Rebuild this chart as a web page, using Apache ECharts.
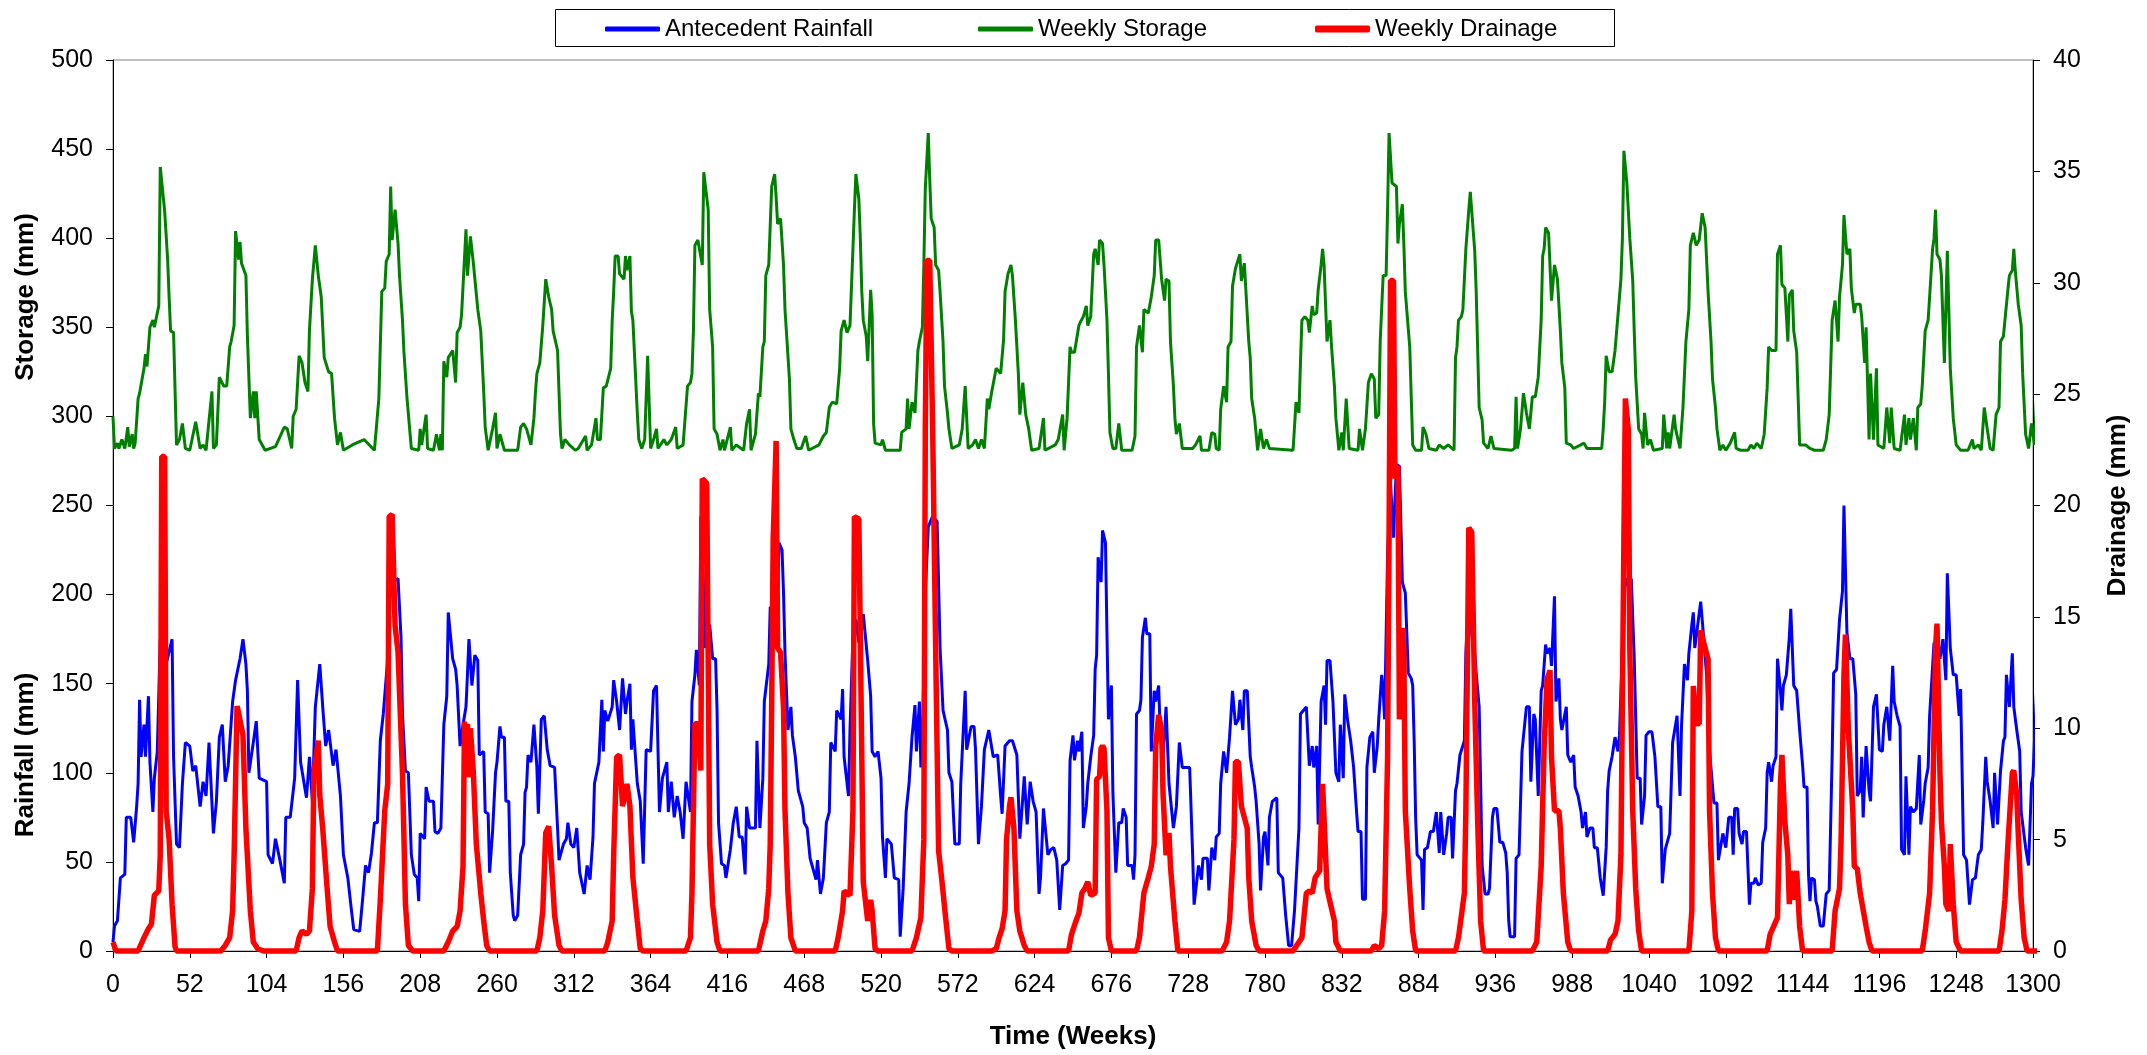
<!DOCTYPE html>
<html>
<head>
<meta charset="utf-8">
<script src="https://cdn.jsdelivr.net/npm/echarts@6/dist/echarts.min.js"></script>
<style>
html,body{margin:0;padding:0;background:#ffffff;}
#chart{width:2147px;height:1055px;}
</style>
</head>
<body>
<div id="chart"></div>
<script>
// ---- Series names and axis titles ----
const seriesNames = ['Antecedent Rainfall', 'Weekly Storage', 'Weekly Drainage'];
const xTitle = 'Time (Weeks)';
const storageTitle = 'Storage (mm)';
const rainfallTitle = 'Rainfall (mm)';
const drainageTitle = 'Drainage (mm)';

// ---- Antecedent rainfall, [week, mm] (left axis) ----
const rainfall = [
[0,5],[1,14],[3,17],[5,41],[8,43],[9,75],[12,75],[14,61],[16,81],[17,94],[18,141],[19,109],[21,127],[22,109],[24,143],[25,106],[27,78],[28,97],[30,112],[32,175],[34,170],[36,161],[40,175],[41,109],[43,60],[45,58],[47,94],[49,117],[52,115],[54,101],[56,104],[59,81],[61,95],[63,87],[65,117],[68,66],[70,84],[72,120],[74,127],[76,95],[78,104],[81,140],[83,152],[86,164],[88,175],[90,161],[91,146],[92,100],[95,117],[97,129],[99,97],[104,95],[105,54],[108,49],[110,63],[113,51],[116,38],[117,75],[120,75],[123,97],[125,152],[127,106],[131,86],[133,109],[135,84],[137,137],[140,161],[142,137],[144,115],[146,124],[149,104],[151,113],[154,87],[156,54],[159,41],[161,26],[163,12],[167,11],[169,29],[171,48],[173,44],[175,55],[177,72],[179,72],[181,118],[183,133],[186,164],[187,232],[189,207],[193,209],[195,176],[196,133],[198,101],[200,100],[202,54],[204,43],[206,41],[207,28],[208,66],[211,63],[212,92],[214,84],[217,84],[218,67],[220,66],
[222,69],[224,127],[226,143],[227,190],[230,164],[232,158],[233,149],[235,115],[237,127],[239,137],[240,155],[241,175],[243,149],[245,166],[247,163],[248,110],[251,112],[252,78],[254,77],[255,44],[257,67],[259,100],[260,106],[262,126],[263,120],[265,120],[266,84],[268,84],[269,44],[271,20],[272,17],[274,20],[276,54],[278,60],[279,89],[280,92],[281,110],[283,106],[285,127],[287,103],[288,77],[290,130],[292,132],[294,113],[296,104],[299,103],[301,69],[302,51],[305,60],[307,63],[308,72],[310,60],[312,58],[314,69],[316,44],[319,32],[321,48],[323,40],[325,64],[326,94],[329,106],[331,141],[332,112],[333,135],[335,129],[338,137],[339,152],[341,140],[343,124],[345,153],[347,133],[348,140],[350,150],[351,113],[352,130],[355,94],[357,84],[359,49],[361,113],[364,112],[366,146],[368,149],[370,78],[372,97],[375,106],[376,78],[378,95],[380,75],[382,87],[384,78],[386,63],[388,95],[391,78],[392,140],[394,155],[395,169],[397,149],[398,244],[400,201],[401,170],[404,183],[406,164],[408,164],[409,135],[410,72],[412,49],[414,48],[415,41],[418,57],[420,72],[422,81],[424,64],[426,64],[428,43],[429,81],[431,69],[435,69],[436,118],
[438,69],[440,97],[441,140],[444,161],[445,193],[447,192],[449,170],[451,229],[453,225],[454,201],[455,167],[457,124],[459,137],[460,121],[462,109],[464,90],[467,81],[468,72],[470,69],[472,52],[473,51],[476,40],[477,51],[479,32],[481,41],[483,72],[485,78],[486,117],[489,112],[490,135],[493,130],[494,147],[495,109],[498,87],[499,124],[501,176],[503,186],[505,173],[508,189],[511,163],[513,143],[514,112],[516,109],[518,112],[520,97],[521,64],[523,41],[524,63],[527,60],[529,41],[532,40],[533,8],[535,35],[537,78],[539,94],[541,120],[543,138],[544,112],[546,140],[547,103],[548,115],[550,201],[552,238],[555,244],[558,241],[560,170],[562,135],[565,124],[566,100],[568,95],[570,60],[573,60],[574,94],[577,146],[578,113],[581,126],[583,126],[584,113],[586,60],[588,81],[590,113],[593,124],[596,109],[599,110],[601,87],[602,77],[604,115],[607,118],[609,118],[612,110],[614,63],[617,98],[619,71],[621,95],[623,84],[625,78],[627,32],[628,41],[630,80],[633,54],[635,57],[637,58],[639,51],[641,23],[643,48],
[645,49],[647,51],[648,107],[650,121],[651,107],[653,118],[654,112],[656,123],[657,69],[659,81],[660,94],[662,109],[664,121],[665,158],[666,166],[667,221],[669,207],[670,236],[672,229],[673,178],[674,130],[676,149],[677,89],[679,44],[681,72],[683,72],[684,80],[686,75],[687,48],[690,48],[691,40],[692,54],[693,133],[695,135],[696,141],[697,176],[699,187],[700,178],[702,178],[703,112],[705,146],[706,140],[708,149],[709,124],[711,109],[713,137],[715,94],[718,69],[720,81],[722,117],[724,103],[729,103],[731,54],[732,26],[735,48],[737,40],[738,52],[741,52],[742,34],[744,58],[746,51],[747,64],[749,66],[750,94],[752,112],[754,100],[756,120],[757,120],[758,146],[760,127],[762,130],[763,141],[765,124],[766,146],[768,146],[770,109],[771,103],[773,92],[774,84],[776,60],[777,34],[779,64],[780,67],[782,48],[783,75],[785,84],[788,86],[789,44],[792,41],[794,20],[796,3],[798,3],[800,23],[802,54],[803,69],[804,133],[806,135],[808,137],[810,104],[812,115],[813,103],[815,115],[816,71],[818,140],[820,149],[821,127],[822,163],[824,163],[826,140],[828,100],[830,95],[831,127],[833,97],[834,144],[836,129],[838,118],[840,103],[842,78],[843,67],[845,67],[846,29],[848,29],[849,103],[851,120],[853,123],[854,100],[856,115],[857,130],[859,155],[860,146],[861,130],[863,222],[865,262],[867,232],[869,273],[871,272],[872,273],[873,207],[875,201],[877,156],[879,153],[880,149],[881,118],[882,75],[883,54],[886,51],[887,23],[888,57],[890,58],[892,67],[894,67],[896,78],[898,55],[899,78],[901,54],[903,66],[904,75],[906,75],[907,52],[909,90],[910,94],[912,110],[913,110],[915,118],[916,167],[918,201],[919,183],[922,167],[923,156],[925,137],[926,94],[927,48],[929,32],[931,32],[932,35],[934,75],[935,80],[937,80],[939,61],[941,61],[943,55],[944,44],[945,17],[946,8],[949,8],[950,52],[952,54],[954,112],[955,112],[957,137],[959,137],[960,95],[962,133],[963,130],[965,87],[967,146],[968,149],[970,172],[971,167],[973,170],[974,160],[976,199],[977,140],[979,153],[980,130],[981,124],[984,137],[985,110],[987,106],[989,110],[990,92],[992,87],[994,78],[995,69],[997,78],[998,64],[1000,69],[1002,69],[1003,58],[1005,58],[1007,41],[1009,31],[1011,58],[1012,90],[1013,101],[1015,109],[1017,120],[1019,112],[1020,121],[1022,170],[1024,209],[1026,205],[1028,209],[1030,164],[1032,97],[1034,97],[1035,71],[1037,87],[1038,121],[1040,123],[1042,123],[1043,123],[1044,109],[1046,81],[1048,81],[1049,38],[1051,57],[1052,57],[1054,66],[1056,117],[1057,117],[1059,132],[1061,87],[1062,126],[1064,161],[1066,152],[1067,167],[1069,183],[1070,190],[1071,170],[1073,183],[1075,196],[1077,176],[1079,155],[1081,112],[1084,83],[1086,83],[1087,51],
[1090,66],[1092,58],[1094,75],[1096,75],[1097,54],[1098,80],[1100,80],[1101,66],[1103,60],[1104,67],[1106,67],[1108,26],[1109,38],[1111,38],[1112,41],[1114,37],[1116,38],[1117,61],[1119,69],[1120,100],[1121,106],[1123,95],[1124,104],[1126,109],[1127,164],[1129,146],[1130,135],[1131,149],[1133,155],[1135,176],[1136,192],[1138,149],[1140,146],[1142,124],[1144,104],[1145,92],[1147,92],[1148,43],[1149,28],[1150,41],[1152,40],[1153,28],[1154,25],[1156,14],[1158,14],[1160,32],[1162,34],[1164,109],[1165,156],[1167,158],[1169,186],[1171,202],[1172,250],[1174,179],[1176,164],[1178,164],[1180,144],[1181,87],[1183,90],[1184,109],[1185,75],[1187,115],[1189,90],[1190,84],[1192,137],[1194,144],[1196,113],[1198,112],[1199,127],[1201,137],[1203,118],[1205,160],[1206,140],[1208,132],[1210,126],[1211,57],[1213,54],[1214,98],[1216,54],[1217,81],[1219,78],[1221,80],[1223,110],[1224,71],[1226,84],[1227,94],[1229,103],[1230,132],[1233,173],[1235,170],[1237,164],[1239,175],[1241,152],[1242,212],[1244,170],[1246,155],[1248,155],[1250,132],[1251,147],[1253,54],[1255,51],[1257,26],[1259,40],[1261,41],[1263,54],[1265,57],[1266,72],[1268,109],[1269,95],[1271,84],[1273,69],[1274,100],[1276,71],[1278,101],[1280,118],[1281,120],[1282,155],[1284,137],[1286,167],[1287,137],[1289,124],[1291,112],[1292,78],[1295,58],[1297,48],[1299,94],[1300,98],[1303,158],[1305,196],[1307,175],[1308,200]
];

// ---- Weekly storage, [week, mm] (left axis) ----
const storage = [
[0,300],[1,282],[3,285],[4,282],[6,287],[8,282],[10,294],[11,283],[13,290],[14,282],[15,285],[17,310],[18,313],[21,327],[22,335],[23,328],[25,350],[27,354],[28,350],[31,362],[32,440],[35,415],[37,388],[38,367],[39,348],[41,347],[43,284],[45,287],[47,296],[49,282],[52,281],[56,297],[59,282],[61,284],[63,281],[67,314],[68,282],[70,284],[72,322],[75,317],[77,317],[79,339],[80,342],[82,351],[83,404],[84,396],[85,388],[86,398],[87,386],[90,379],[91,345],[93,299],[95,314],[96,299],[97,314],[99,287],[103,281],[110,283],[116,294],[118,293],[121,282],[122,300],[124,304],[126,334],[128,330],[130,319],[132,314],[133,348],[135,377],[137,396],[139,379],[141,367],[143,333],[146,325],[148,324],[150,299],[152,284],[154,291],[156,281],[162,284],[170,287],[177,281],[180,310],[182,370],[184,372],[185,387],[187,391],[188,429],[189,399],[191,416],[193,397],[194,379],[196,354],[197,336],[199,311],[202,282],[207,281],[208,293],[209,284],[212,301],[213,282],[217,281],[219,290],
[221,281],[222,290],[223,281],[224,331],[226,322],[227,333],[230,337],[232,319],[233,347],[235,350],[236,357],[239,405],[240,379],[242,401],[244,386],[245,385],[247,360],[249,348],[251,314],[252,294],[254,281],[257,293],[259,302],[260,282],[262,290],[265,281],[274,281],[276,294],[278,296],[280,293],[283,284],[285,299],[286,313],[287,324],[289,330],[291,351],[293,377],[295,367],[297,360],[298,348],[301,337],[302,336],[303,290],[304,282],[306,287],[309,284],[313,281],[315,282],[320,289],[321,281],[324,284],[327,299],[328,287],[330,287],[332,316],[334,317],[337,327],[338,354],[339,370],[340,390],[342,390],[343,380],[346,377],[347,390],[348,382],[350,390],[351,359],[352,354],[355,302],[356,287],[358,282],[360,287],[362,334],[364,282],[366,287],[368,293],[369,282],[373,287],[375,284],[378,287],[381,294],[382,282],[386,284],[389,317],[391,319],[392,324],[393,348],[394,396],[396,399],[397,400],[399,385],[400,437],[401,436],[403,416],[404,360],[406,339],[407,293],[409,290],[411,281],[413,287],[414,281],[418,294],[419,281],[422,284],[427,281],[429,296],[431,304],[432,281],[435,290],[437,313],
[438,311],[440,339],[441,342],[442,379],[444,385],[446,429],[448,436],[449,423],[450,408],[452,411],[454,385],[455,360],[458,321],[459,293],[461,287],[463,282],[466,282],[469,289],[471,281],[478,284],[481,289],[483,291],[485,305],[487,308],[490,307],[492,327],[493,348],[495,354],[497,347],[499,351],[501,394],[502,416],[503,436],[505,422],[506,400],[507,370],[508,354],[510,345],[511,331],[513,371],[514,357],[515,296],[516,285],[520,284],[521,287],[523,281],[533,281],[534,291],[537,293],[538,310],[539,293],[541,308],[543,302],[545,337],[546,342],[548,350],[549,385],[550,428],[552,459],[553,433],[554,411],[556,406],[557,385],[559,382],[560,370],[562,342],[563,317],[565,302],[566,293],[568,282],[573,284],[575,293],[577,317],[579,282],[582,284],[584,287],[586,282],[588,287],[590,282],[592,310],[593,304],[595,314],[598,327],[599,327],[601,324],[603,343],[604,370],[606,380],[608,385],[609,379],[611,354],[613,324],[614,301],[616,319],[618,301],[620,293],[622,281],[627,282],[630,299],[631,281],[638,284],[640,287],[643,301],[644,281],[646,299],[648,339],[649,336],[651,336],[654,351],
[655,353],[657,356],[659,362],[660,351],[662,356],[664,391],[665,394],[667,385],[668,399],[670,397],[671,385],[673,354],[674,324],[675,291],[677,282],[679,282],[681,296],[683,281],[690,281],[692,289],[693,339],[695,351],[696,351],[697,336],[698,360],[701,358],[703,367],[705,379],[706,399],[708,399],[710,377],[712,365],[713,377],[715,376],[716,342],[718,317],[719,299],[720,290],[722,296],[724,282],[731,282],[733,284],[736,289],[737,281],[742,281],[744,291],[746,290],[747,282],[749,281],[750,304],[752,317],[754,308],[755,339],[757,342],[758,373],[760,383],[763,391],[764,376],[766,386],[768,357],[769,342],[770,333],[771,310],[773,299],[775,281],[777,293],[779,282],[781,287],[783,282],[799,281],[801,308],[803,302],[804,330],[805,354],[807,356],[809,354],[810,347],[812,362],[813,357],[815,358],[816,371],[818,385],[819,394],[820,385],[821,363],[822,342],[824,354],[825,340],[827,317],[828,299],[830,281],[832,291],[833,281],[835,310],[837,282],[843,281],[844,293],[846,281],[848,293],[849,294],[850,319],[852,324],[854,321],[855,299],[857,301],[858,342],[860,379],[862,379],[863,416],[864,459],[866,431],[869,429],[870,397],
[871,408],[873,419],[874,397],[875,370],[878,339],[880,284],[882,281],[886,281],[887,294],[889,290],[891,282],[896,281],[898,284],[901,282],[904,284],[908,281],[909,333],[910,339],[911,354],[913,356],[914,360],[916,394],[918,416],[919,426],[922,393],[923,370],[925,305],[927,298],[928,285],[931,282],[933,289],[935,282],[947,281],[949,282],[950,311],[951,282],[953,293],[955,313],[957,302],[959,293],[961,311],[963,311],[965,322],[967,354],[968,390],[969,394],[970,406],[972,403],[974,365],[976,385],[978,377],[979,376],[980,348],[981,330],[983,316],[984,285],[987,284],[989,282],[996,285],[998,282],[1008,282],[1009,293],[1010,308],[1011,334],[1013,325],[1015,325],[1017,337],[1019,357],[1021,377],[1022,400],[1023,449],[1025,431],[1027,400],[1029,376],[1030,348],[1031,322],[1033,293],[1035,290],[1036,282],[1037,302],[1039,284],[1041,287],[1043,281],[1049,282],[1050,301],[1052,282],[1053,291],[1054,282],[1057,301],[1058,293],[1061,282],[1063,305],[1065,342],[1067,360],[1068,396],[1070,403],[1072,396],[1074,399],[1076,414],
[1078,406],[1080,370],[1082,342],[1083,321],[1085,305],[1086,293],[1088,281],[1090,284],[1092,281],[1095,285],[1098,291],[1099,282],[1102,281],[1107,281],[1109,284],[1111,282],[1113,285],[1116,282],[1118,290],[1120,316],[1121,339],[1123,337],[1126,337],[1127,391],[1129,396],[1130,374],[1132,372],[1134,342],[1135,368],[1137,371],[1138,348],[1140,336],[1142,284],[1146,284],[1149,282],[1152,281],[1158,281],[1160,287],[1162,301],[1164,354],[1166,365],[1168,342],[1169,367],[1171,385],[1172,413],[1174,391],[1176,394],[1177,372],[1179,358],[1180,363],[1183,363],[1184,356],[1186,330],[1187,350],[1189,287],[1190,324],[1192,287],[1194,327],[1195,284],[1199,282],[1201,305],[1203,285],[1204,305],[1206,282],[1210,281],[1213,301],[1214,284],[1216,299],[1217,287],[1219,299],[1221,281],[1222,305],[1224,307],[1225,317],[1227,348],[1229,354],[1230,367],[1232,394],[1233,400],[1234,416],[1235,391],[1237,388],[1238,379],[1239,354],[1240,330],[1242,393],[1243,360],[1244,327],[1246,299],[1248,284],[1251,281],[1256,281],[1259,287],[1260,282],[1263,284],[1265,281],[1267,305],[1269,293],[1271,282],[1273,281],[1275,301],[1277,305],[1278,342],[1280,345],[1281,354],[1283,371],[1284,379],[1286,382],[1287,394],[1288,382],[1290,363],[1292,351],[1293,324],[1295,290],[1297,282],[1299,296],[1300,296],[1301,284],[1303,321],[1305,324]
];

// ---- Weekly drainage, [week, mm] (right axis) ----
const drainage = [
[0,0.4],[2,0],[17,0],[21,0.6],[24,1.0],[26,1.2],[28,2.5],[31,2.7],[32,4.3],[33,22.2],[35,22.2],[36,6.3],[38,5.0],[40,2.1],[42,0.2],[43,0],[73,0],[76,0.25],[79,0.6],[81,1.8],[82,4.3],[84,11.0],[85,10.7],[88,9.7],[90,5.5],[93,1.8],[95,0.4],[98,0.1],[102,0],[124,0],[126,0.6],[128,0.9],[131,0.75],[133,0.9],[135,2.8],[136,8.0],[139,9.45],[140,7.0],[142,5.5],[145,2.8],[147,1.1],[150,0.4],[152,0],[179,0],[181,2.3],[184,6.3],[186,7.5],[187,19.5],[189,19.6],[191,14.6],[193,13.4],[194,13.4],[196,8.0],[198,2.1],[200,0.25],[203,0],
[224,0],[227,0.4],[230,0.9],[233,1.1],[235,1.8],[237,3.8],[238,10.3],[239,7.8],[240,10.2],[241,7.8],[242,10.0],[244,8.0],[246,4.8],[249,2.6],[251,1.35],[253,0.25],[255,0],[287,0],[289,0.6],[291,1.8],[293,5.3],[295,5.6],[297,3.8],[299,1.6],[302,0.25],[304,0],[333,0],[335,0.4],[338,1.35],[339,4.3],[341,8.7],[343,8.8],[345,6.5],[348,7.5],[350,6.5],[352,3.3],[355,1.35],[357,0.1],[359,0],[388,0],[391,0.6],[392,2.6],[394,10.2],[396,10.2],[398,8.1],[399,21.2],[402,21.0],[404,4.8],[406,2.1],[409,0.4],[411,0],[437,0],[440,0.9],[442,1.35],[444,2.8],[445,4.8],[446,11.2],[447,18.5],[449,22.9],[450,13.6],[452,13.4],[454,10.9],[455,6.3],[457,2.6],[459,0.6],[462,0],[489,0],[491,0.6],[494,1.8],[495,2.7],[499,2.5],[501,6.3],[502,19.5],[505,19.4],[507,8.7],[508,3.1],[511,1.35],[513,2.3],[514,1.8],[516,0.1],[518,0],[541,0],[544,0.6],[547,1.5],[549,5.0],[550,23.4],[551,31.0],[553,31.0],[555,23.4],[557,13.6],[559,4.5],[561,3.3],[564,1.35],[566,0.1],[568,0],[595,0],[598,0.1],[600,0.6],[602,1.0],[604,1.8],[605,5.0],[607,6.5],[608,6.9],[610,5.5],[612,1.8],[614,0.9],[617,0.25],[619,0],[647,0],[649,0.75],[652,1.35],[654,1.7],[656,2.6],[658,2.8],[660,3.1],[662,2.5],[665,2.6],[666,7.7],[668,7.85],[669,9.1],[670,9.2],[671,9.1],[673,6.3],[674,0.6],[676,0],[693,0],[695,0.6],[698,2.6],[701,3.3],[703,3.8],[705,4.8],[706,9.2],[708,10.6],[710,9.9],[711,7.0],[713,4.3],[715,5.3],[716,3.8],[719,1.35],[721,0],[751,0],[754,0.4],[756,1.35],[759,5.0],[760,8.5],[762,8.5],[764,6.5],[766,6.0],[768,5.5],[769,3.3],[771,1.35],[774,0.25],[776,0],[799,0],[805,0.6],[808,2.6],[810,2.7],[812,2.6],[814,3.3],[817,3.6],[819,7.5],[820,7.5],[822,2.8],[824,2.2],[827,1.35],[828,0.4],[831,0],[852,0],[854,0.25],[857,0.1],[859,0.25],[861,1.8],[863,8.7],[864,18.5],[865,30.1],[867,30.1],[868,21.2],[870,21.8],[871,10.4],[873,14.5],[874,13.6],[875,6.3],[878,2.8],[880,0.9],[882,0],[909,0],[911,0.6],[915,2.6],[916,6.3],[918,19.0],[920,18.8],[922,11.2],[924,5.8],[926,1.35],[928,0],[961,0],[964,0.4],[967,3.8],[969,9.2],[971,12.2],[973,12.6],[974,8.7],[976,6.3],[979,6.3],[980,5.5],[982,2.6],[985,0.4],[987,0],[1012,0],[1014,0.5],[1017,0.75],[1019,1.35],[1021,4.3],[1023,18.5],[1024,24.8],[1026,23.4],[1027,13.6],[1029,6.3],[1031,2.8],[1033,0.9],[1035,0],[1067,0],[1069,1.8],[1070,11.9],[1072,10.2],[1074,10.2],[1075,14.4],[1078,13.6],[1080,13.1],[1081,6.3],[1083,2.6],[1085,0.6],[1087,0],[1120,0],[1122,0.75],[1125,1.2],[1127,1.5],[1129,7.5],[1130,8.8],[1132,5.8],[1134,4.3],[1135,2.1],[1136,3.6],[1138,2.3],[1140,3.6],[1142,1.1],[1144,0],[1164,0],[1166,1.8],[1169,2.8],[1170,4.8],[1172,12.4],[1173,14.2],[1175,9.9],[1178,6.3],[1179,3.8],[1181,3.7],[1183,2.6],[1187,1.1],[1189,0.4],[1191,0],[1225,0],[1227,0.9],[1230,2.6],[1232,6.3],[1234,13.6],[1235,14.7],[1237,8.0],[1238,5.8],[1240,3.8],[1241,2.1],[1243,1.8],[1244,4.8],[1246,2.1],[1248,0.4],[1251,0],[1277,0],[1279,0.9],[1281,2.3],[1283,4.8],[1286,8.0],[1287,8.1],[1289,7.0],[1290,5.3],[1292,2.3],[1294,0.6],[1296,0],[1306,0]
];

const FONT = '"Liberation Sans", Arial, sans-serif';
const chart = echarts.init(document.getElementById('chart'), null, {renderer: 'canvas'});

const axisLabelStyle = {color: '#000', fontFamily: FONT, fontSize: 25};
const titleStyle = {color: '#000', fontFamily: FONT, fontSize: 26, fontWeight: 'bold'};
const legendText = {color: '#000', fontFamily: FONT, fontSize: 24};

function legendFor(name, left, thick) {
  return {data: [{name: name, icon: 'roundRect'}], left: left, top: 12, itemWidth: 55, itemHeight: thick,
          itemGap: 0, textStyle: legendText, selectedMode: false};
}

const option = {
  animation: false,
  backgroundColor: '#ffffff',
  grid: {left: 113, right: 114, top: 60, bottom: 103, show: true, borderColor: '#808080', borderWidth: 1, containLabel: false},
  legend: [
    legendFor(seriesNames[0], 600, 5),
    legendFor(seriesNames[1], 973, 5),
    legendFor(seriesNames[2], 1310, 7)
  ],
  xAxis: {
    type: 'value', min: 0, max: 1300, interval: 52,
    name: xTitle, nameLocation: 'middle', nameGap: 73, nameTextStyle: titleStyle,
    axisLine: {show: true, onZero: false, lineStyle: {color: '#000', width: 1}},
    axisTick: {show: true, inside: false, length: 7, lineStyle: {color: '#000'}},
    axisLabel: Object.assign({margin: 22, formatter: function (v) { return String(v); }}, axisLabelStyle),
    splitLine: {show: false}
  },
  yAxis: [
    {
      type: 'value', min: 0, max: 500, interval: 50, position: 'left',
      axisLine: {show: true, lineStyle: {color: '#000', width: 1}},
      axisTick: {show: true, inside: false, length: 7, lineStyle: {color: '#000'}},
      axisLabel: Object.assign({margin: 20}, axisLabelStyle),
      splitLine: {show: false}
    },
    {
      type: 'value', min: 0, max: 40, interval: 5, position: 'right',
      name: drainageTitle, nameLocation: 'middle', nameRotate: 90, nameGap: 72, nameTextStyle: titleStyle,
      axisLine: {show: true, lineStyle: {color: '#000', width: 1}},
      axisTick: {show: true, inside: false, length: 7, lineStyle: {color: '#000'}},
      axisLabel: Object.assign({margin: 20}, axisLabelStyle),
      splitLine: {show: false}
    }
  ],
  graphic: [
    {type: 'rect', left: 553, top: 7, shape: {width: 1059, height: 37}, style: {fill: 'none', stroke: '#000', lineWidth: 1}, silent: true, z: -1},
    {type: 'text', x: 26, y: 297, rotation: Math.PI / 2, style: {text: storageTitle, fill: '#000', font: 'bold 26px ' + FONT, textAlign: 'center', textVerticalAlign: 'middle'}},
    {type: 'text', x: 26, y: 755, rotation: Math.PI / 2, style: {text: rainfallTitle, fill: '#000', font: 'bold 26px ' + FONT, textAlign: 'center', textVerticalAlign: 'middle'}}
  ],
  series: [
    {name: seriesNames[0], type: 'line', yAxisIndex: 0, data: rainfall, symbol: 'none', clip: false,
     lineStyle: {color: '#0000FF', width: 3}, itemStyle: {color: '#0000FF'}},
    {name: seriesNames[1], type: 'line', yAxisIndex: 0, data: storage, symbol: 'none', clip: false,
     lineStyle: {color: '#008000', width: 3}, itemStyle: {color: '#008000'}},
    {name: seriesNames[2], type: 'line', yAxisIndex: 1, data: drainage, symbol: 'none', clip: false,
     lineStyle: {color: '#FF0000', width: 5.5}, itemStyle: {color: '#FF0000'}}
  ]
};
chart.setOption(option);
</script>
</body>
</html>
